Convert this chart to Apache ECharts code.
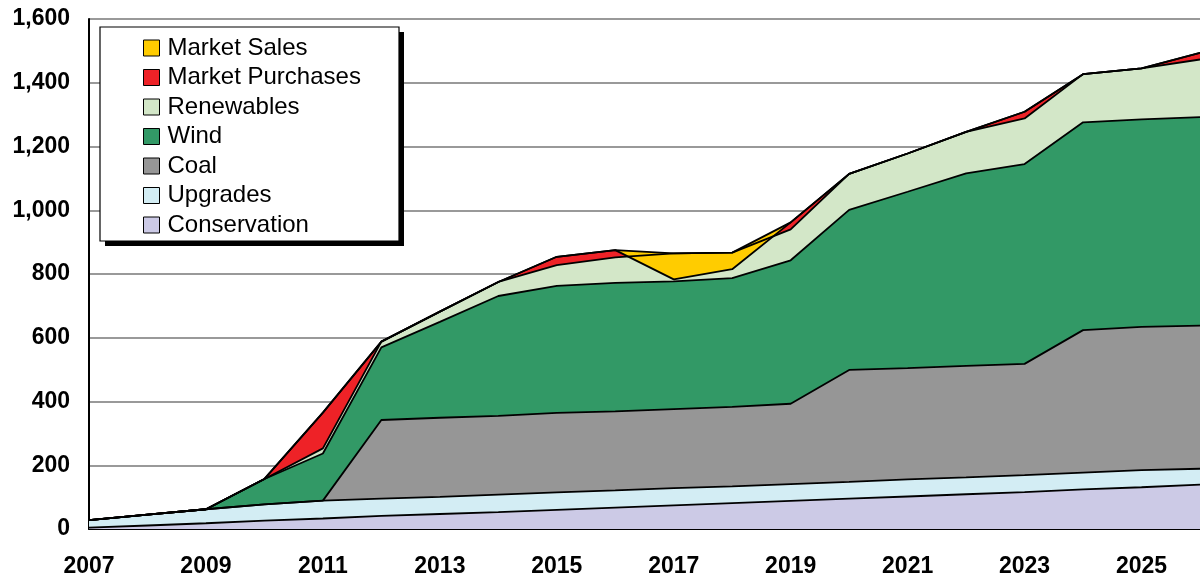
<!DOCTYPE html>
<html>
<head>
<meta charset="utf-8">
<script src="https://cdn.jsdelivr.net/npm/echarts@6/dist/echarts.min.js"></script>
<style>
  html, body { margin: 0; padding: 0; background: #fff; }
  #chart { width: 1200px; height: 582px; }
</style>
</head>
<body>
<div id="chart"></div>
<script>
// Resource additions by year (cumulative MW-style stack)
const years = ['2007','2008','2009','2010','2011','2012','2013','2014','2015','2016',
               '2017','2018','2019','2020','2021','2022','2023','2024','2025','2026'];
const conservation = [4, 11, 18, 26, 33, 41, 47, 53, 60, 67, 74, 81, 88, 95, 102, 109, 116, 124, 131, 139];
const upgrades     = [24, 34, 44, 51, 56, 54, 54, 55, 55, 54, 54, 53, 53, 53, 54, 53, 53, 53, 54, 50];
const coal         = [0, 0, 0, 0, 0, 247, 248, 247, 249, 248, 248, 249, 252, 351, 349, 350, 349, 447, 449, 449];
const wind         = [0, 0, 0, 80, 148, 228, 301, 376, 399, 403, 401, 404, 450, 502, 553, 604, 627, 652, 651, 654];
const renewables   = [0, 0, 0, 0, 16, 18, 32, 44, 65, 80, 88, 80, 97, 113, 120, 130, 143, 151, 160, 181];
const purchases    = [0, 0, 0, 0, 112, 0, 0, 0, 26, 23, 0, 0, 22, 0, 0, 0, 21, 0, 0, 21];
const sales        = [0, 0, 0, 0, 0, 0, 0, 0, 0, 0, -82, -52, 0, 0, 0, 0, 0, 0, 0, 0];
const yTicks = { min: 0, max: 1600, step: 200 };

const layers = [
  { name: 'Conservation',      data: conservation, color: '#CCCAE6' },
  { name: 'Upgrades',          data: upgrades,     color: '#D3EDF4' },
  { name: 'Coal',              data: coal,         color: '#969696' },
  { name: 'Wind',              data: wind,         color: '#329966' },
  { name: 'Renewables',        data: renewables,   color: '#D3E7C8' },
  { name: 'Market Purchases',  data: purchases,    color: '#EE2227' },
  { name: 'Market Sales',      data: sales,        color: '#FFCC00' }
];

const FONT = "'Liberation Sans', Arial, sans-serif";

const areaSeries = layers.map(l => ({
  name: l.name,
  type: 'line',
  stack: 'total',
  stackStrategy: 'all',
  data: l.data,
  symbol: 'none',
  color: l.color,
  itemStyle: { color: l.color, borderColor: '#000', borderWidth: 1 },
  lineStyle: { width: 0, color: l.color },
  areaStyle: { color: l.color, opacity: 1 },
  z: 2
}));

// black outlines drawn above every filled band
const edgeSeries = layers.map(l => ({
  name: l.name + ' edge',
  type: 'line',
  stack: 'edge',
  stackStrategy: 'all',
  data: l.data,
  symbol: 'none',
  silent: true,
  lineStyle: { width: 1.8, color: '#000' },
  z: 3
}));

const chart = echarts.init(document.getElementById('chart'));
chart.setOption({
  animation: false,
  backgroundColor: '#fff',
  grid: { left: 89, right: 0, top: 19, bottom: 53, containLabel: false },
  xAxis: {
    type: 'category',
    data: years,
    boundaryGap: false,
    axisLine: { lineStyle: { color: '#000', width: 2 } },
    axisTick: { show: false },
    axisLabel: {
      interval: 1,
      margin: 26,
      color: '#000',
      fontFamily: FONT,
      fontWeight: 'bold',
      fontSize: 23
    },
    splitLine: { show: false }
  },
  yAxis: {
    type: 'value',
    min: yTicks.min,
    max: yTicks.max,
    interval: yTicks.step,
    axisLine: { show: true, lineStyle: { color: '#000', width: 2 } },
    axisTick: { show: false },
    axisLabel: {
      margin: 19,
      color: '#000',
      fontFamily: FONT,
      fontWeight: 'bold',
      fontSize: 23,
      formatter: v => v.toLocaleString('en-US')
    },
    splitLine: { lineStyle: { color: '#777', width: 1.5 } }
  },
  graphic: [
    { type: 'rect', z: 5, shape: { x: 105, y: 32, width: 299, height: 214 }, style: { fill: '#000' } },
    { type: 'rect', z: 5, shape: { x: 100, y: 27, width: 299, height: 214 }, style: { fill: '#fff', stroke: '#000', lineWidth: 1.2 } }
  ],
  legend: {
    z: 6,
    orient: 'vertical',
    left: 100,
    top: 27,
    padding: [9, 0, 0, 43],
    itemWidth: 16,
    itemHeight: 16,
    itemGap: 5.5,
    icon: 'rect',
    itemStyle: { borderColor: '#000', borderWidth: 1 },
    data: ['Market Sales', 'Market Purchases', 'Renewables', 'Wind', 'Coal', 'Upgrades', 'Conservation'],
    textStyle: {
      color: '#000',
      fontFamily: FONT,
      fontSize: 24,
      lineHeight: 24,
      padding: [0, 0, 0, 3]
    }
  },
  series: areaSeries.concat(edgeSeries)
});
</script>
</body>
</html>
